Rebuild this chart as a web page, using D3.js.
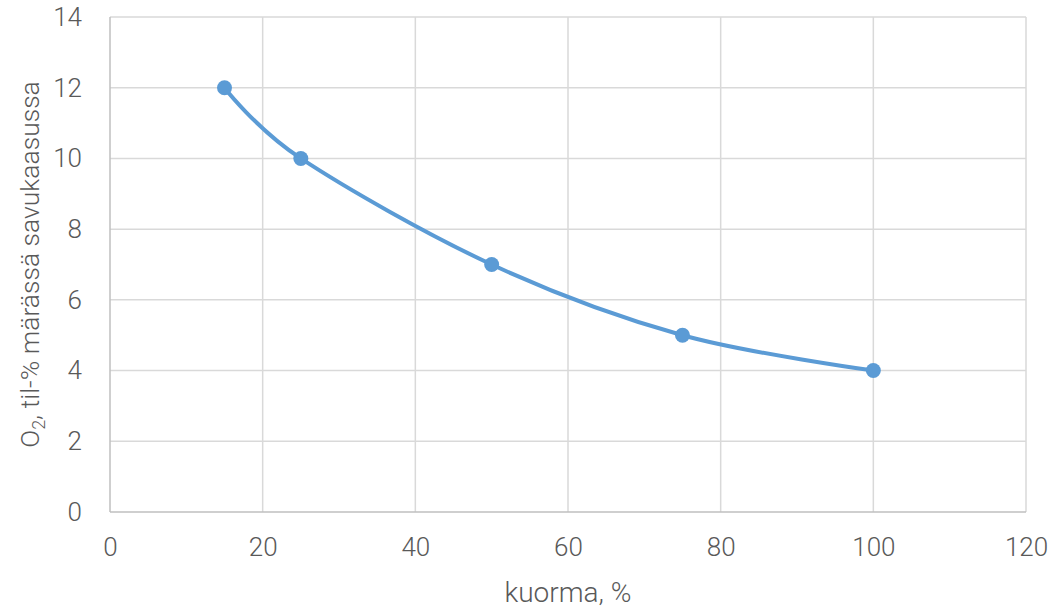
<!DOCTYPE html>
<html>
<head>
<meta charset="utf-8">
<script src="https://cdn.jsdelivr.net/npm/d3@7"></script>
<style>
  html, body { margin: 0; padding: 0; background: #fff; }
  svg { display: block; }
  text { font-family: "Roboto", sans-serif; font-weight: 300; fill: #595959; }
</style>
</head>
<body>
<svg id="chart" width="1059" height="608"></svg>
<script>
// Load (%) vs. O2 content in wet flue gas
const loadPct = [15, 25, 50, 75, 100];
const o2Vol = [12, 10, 7, 5, 4];
const xTicks = [0, 20, 40, 60, 80, 100, 120];
const yTicks = [0, 2, 4, 6, 8, 10, 12, 14];

const svg = d3.select("#chart");
const margin = { left: 110, right: 1026, top: 17, bottom: 512 };

const x = d3.scaleLinear().domain([0, 120]).range([margin.left, margin.right]);
const y = d3.scaleLinear().domain([0, 14]).range([margin.bottom, margin.top]);

// gridlines
const grid = svg.append("g");
grid.selectAll(".gx").data(xTicks.slice(1)).join("line")
  .attr("x1", d => x(d)).attr("x2", d => x(d))
  .attr("y1", y(0)).attr("y2", y(14))
  .attr("stroke", "#d9d9d9").attr("stroke-width", 1.5);
grid.selectAll(".gy").data(yTicks.slice(1)).join("line")
  .attr("x1", x(0)).attr("x2", x(120))
  .attr("y1", d => y(d)).attr("y2", d => y(d))
  .attr("stroke", "#d9d9d9").attr("stroke-width", 1.5);

// axis lines
svg.append("line").attr("x1", x(0)).attr("x2", x(0)).attr("y1", y(0)).attr("y2", y(14))
  .attr("stroke", "#bfbfbf").attr("stroke-width", 1.5);
svg.append("line").attr("x1", x(0)).attr("x2", x(120)).attr("y1", y(0)).attr("y2", y(0))
  .attr("stroke", "#bfbfbf").attr("stroke-width", 1.5);

// tick labels
const xAxis = d3.axisBottom(x).tickValues(xTicks).tickSize(0).tickPadding(26);
const gx = svg.append("g").attr("transform", `translate(0,${y(0)})`).call(xAxis);
gx.select(".domain").remove();
gx.attr("font-family", null).attr("font-size", null);
gx.selectAll("text").style("font-size", "26px").attr("fill", "#595959");

const yAxis = d3.axisLeft(y).tickValues(yTicks).tickSize(0).tickPadding(28);
const gy = svg.append("g").attr("transform", `translate(${x(0)},0)`).call(yAxis);
gy.select(".domain").remove();
gy.attr("font-family", null).attr("font-size", null);
gy.selectAll("text").style("font-size", "26px").attr("fill", "#595959");

// smoothed series line
const pts = loadPct.map((v, i) => [v, o2Vol[i]]);
const line = d3.line().x(d => x(d[0])).y(d => y(d[1])).curve(d3.curveCatmullRom.alpha(0));
svg.append("path").datum(pts).attr("d", line)
  .attr("fill", "none").attr("stroke", "#5b9bd5").attr("stroke-width", 4)
  .attr("stroke-linecap", "round");

svg.selectAll(".pt").data(pts).join("circle")
  .attr("cx", d => x(d[0])).attr("cy", d => y(d[1])).attr("r", 7.5)
  .attr("fill", "#5b9bd5");

// axis titles
svg.append("text").attr("x", 568).attr("y", 602)
  .attr("text-anchor", "middle").style("font-size", "28px").text("kuorma, %");

const yt = svg.append("text")
  .attr("transform", `translate(39,${(y(0) + y(14)) / 2}) rotate(-90)`)
  .attr("text-anchor", "middle").style("font-size", "26.5px");
yt.append("tspan").text("O");
yt.append("tspan").attr("dy", 6).style("font-size", "18px").text("2");
yt.append("tspan").attr("dy", -6).text(", til-% märässä savukaasussa");
</script>
</body>
</html>
